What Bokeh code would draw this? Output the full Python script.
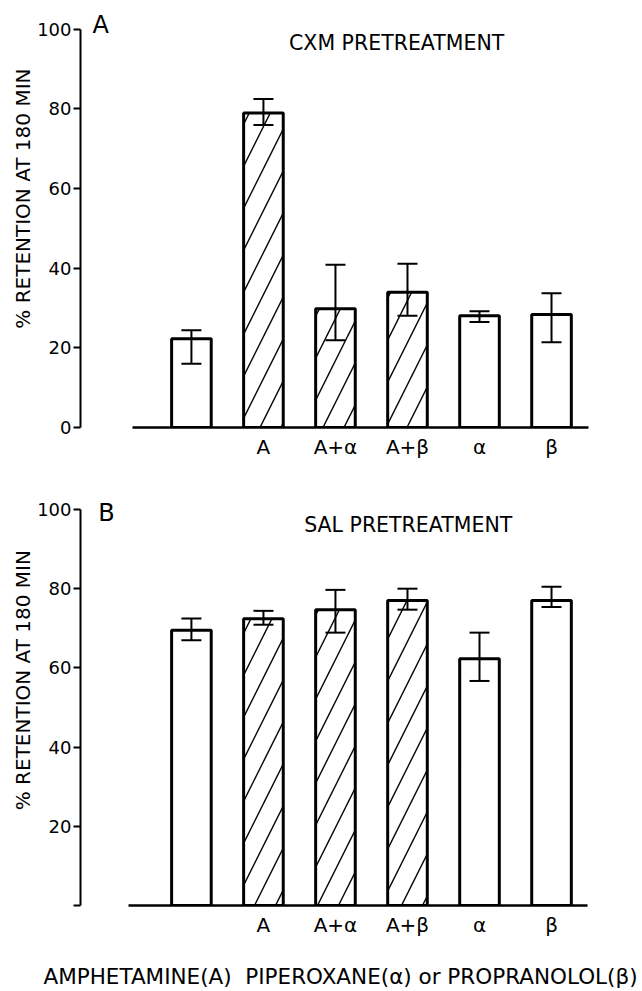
from bokeh.plotting import figure
from bokeh.models import Range1d, FixedTicker, Whisker, TeeHead, ColumnDataSource, Label, Title
from bokeh.layouts import column
from bokeh.embed import file_html
from bokeh.resources import INLINE

# ---- data ----
groups = ["Control", "A", "A+α", "A+β", "α", "β"]
tick_labels = ["", "A", "A+α", "A+β", "α", "β"]
hatched = [False, True, True, True, False, False]

cxm_mean = [22.3, 79.0, 29.8, 34.0, 28.1, 28.4]
cxm_upper = [24.4, 82.5, 40.9, 41.1, 29.2, 33.7]
cxm_lower = [16.0, 76.0, 21.9, 28.1, 26.5, 21.4]

sal_mean = [69.5, 72.4, 74.7, 77.0, 62.3, 77.0]
sal_upper = [72.5, 74.4, 79.7, 80.0, 68.9, 80.5]
sal_lower = [67.0, 70.9, 68.9, 74.7, 56.7, 75.4]

y_ticks = [0, 20, 40, 60, 80, 100]
y_title = "% RETENTION AT 180 MIN"

FONT = "DejaVu Sans"


def make_panel(mean, upper, lower, title, letter, height, top_border, bottom_border,
               y_end, base_bounds, title_xy, letter_xy, ylab_pad, show_zero, bottom_text=None):
    xs = list(range(len(groups)))
    p = figure(width=642, height=height, output_backend="svg", toolbar_location=None,
               x_range=Range1d(-1.54, 5.68), y_range=Range1d(0, y_end),
               min_border_left=80, min_border_right=42,
               min_border_top=top_border, min_border_bottom=bottom_border)
    p.outline_line_color = None
    p.xgrid.grid_line_color = None
    p.ygrid.grid_line_color = None
    p.background_fill_color = "white"
    p.border_fill_color = "white"

    src = ColumnDataSource(dict(x=xs, top=mean, upper=upper, lower=lower,
                                hatch=["/" if h else " " for h in hatched]))
    p.vbar(x="x", top="top", bottom=0, width=0.55, source=src,
           fill_color="white", line_color="black", line_width=3,
           hatch_pattern="hatch", hatch_color="black", hatch_scale=42, hatch_weight=1.4)

    w = Whisker(base="x", upper="upper", lower="lower", source=src,
                line_color="black", line_width=2, level="overlay",
                upper_head=TeeHead(size=20, line_width=2, line_color="black"),
                lower_head=TeeHead(size=20, line_width=2, line_color="black"))
    p.add_layout(w)

    # y axis
    ya = p.yaxis[0]
    ya.bounds = (0, 100)
    ya.ticker = FixedTicker(ticks=y_ticks)
    ya.minor_tick_line_color = None
    ya.major_tick_out = 7
    ya.major_tick_in = 0
    ya.axis_line_width = 2
    ya.major_tick_line_width = 2
    ya.major_label_standoff = 2
    ya.major_label_text_font = FONT
    ya.major_label_text_font_size = "18px"
    ya.major_label_text_color = "black"
    if not show_zero:
        ya.major_label_overrides = {0: ""}

    # y title placed on the left side (leading no-break spaces nudge it upward)
    p.add_layout(Title(text="\u00a0" * ylab_pad + y_title, align="center", standoff=0,
                       text_font=FONT, text_font_size="20px", text_font_style="normal",
                       text_color="black"), "left")

    # x axis (baseline + category labels)
    xa = p.xaxis[0]
    xa.bounds = base_bounds
    xa.ticker = FixedTicker(ticks=xs)
    xa.major_label_overrides = {i: t for i, t in zip(xs, tick_labels)}
    xa.minor_tick_line_color = None
    xa.major_tick_out = 0
    xa.major_tick_in = 0
    xa.axis_line_width = 2.5
    xa.major_label_standoff = 7
    xa.major_label_text_font = FONT
    xa.major_label_text_font_size = "20px"
    xa.major_label_text_color = "black"
    if bottom_text:
        xa.axis_label = bottom_text
        xa.axis_label_standoff = 24
        xa.axis_label_text_font = FONT
        xa.axis_label_text_font_size = "21.5px"
        xa.axis_label_text_font_style = "normal"
        xa.axis_label_text_color = "black"

    p.add_layout(Label(x=title_xy[0], y=title_xy[1], text=title, text_align="center",
                       text_baseline="middle", text_font=FONT, text_font_size="20.5px",
                       text_color="black"))
    p.add_layout(Label(x=letter_xy[0], y=letter_xy[1], text=letter, text_align="center",
                       text_baseline="middle", text_font=FONT, text_font_size="24px",
                       text_color="black"))
    return p


pA = make_panel(cxm_mean, cxm_upper, cxm_lower, "CXM PRETREATMENT", "A",
                height=467, top_border=1, bottom_border=40, y_end=107.0,
                base_bounds=(-0.82, 5.52), title_xy=(2.85, 96.5), letter_xy=(-1.26, 101),
                ylab_pad=5, show_zero=True)

pB = make_panel(sal_mean, sal_upper, sal_lower, "SAL PRETREATMENT", "B",
                height=524, top_border=0, bottom_border=86, y_end=110.6,
                base_bounds=(-0.88, 5.5), title_xy=(3.01, 96.0), letter_xy=(-1.18, 99),
                ylab_pad=2, show_zero=False,
                bottom_text="AMPHETAMINE(A)\u00a0 PIPEROXANE(α) or PROPRANOLOL(β)")

layout = column(pA, pB, spacing=0)
open("out.html", "w").write(file_html(layout, INLINE))
